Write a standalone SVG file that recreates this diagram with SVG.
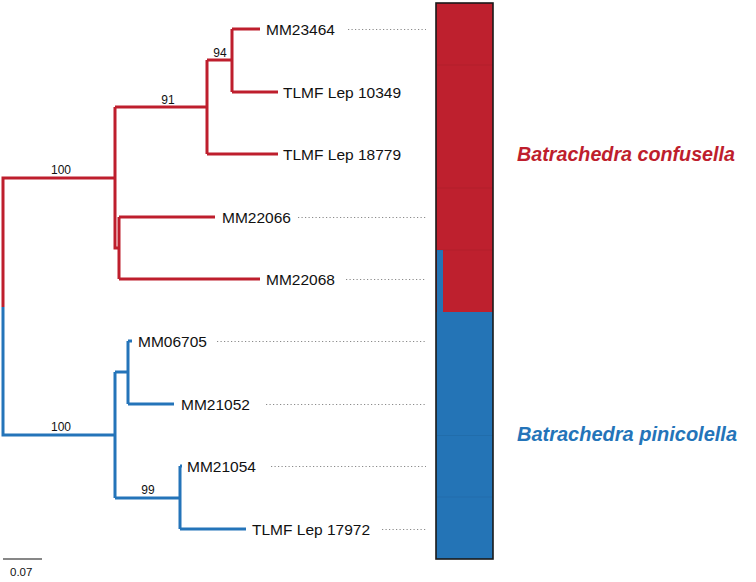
<svg xmlns="http://www.w3.org/2000/svg" width="756" height="582" viewBox="0 0 756 582">
<style>
.red{stroke:#be1e2d;stroke-width:3;fill:none;stroke-linejoin:miter;stroke-linecap:butt}
.blue{stroke:#2474b9;stroke-width:3;fill:none;stroke-linejoin:miter;stroke-linecap:butt}
.dot{stroke:#8a8a8a;stroke-width:1.2;stroke-dasharray:1.2 2.3;fill:none}
.leaf{font-family:"Liberation Sans",Arial,sans-serif;font-size:15.5px;fill:#111}
.bs{font-family:"Liberation Sans",Arial,sans-serif;font-size:12px;fill:#111;text-anchor:middle}
.sp{font-family:"Liberation Sans",Arial,sans-serif;font-size:20px;font-weight:bold;font-style:italic}
.seg{stroke:#000;stroke-opacity:0.06;stroke-width:1}
</style>
<rect width="756" height="582" fill="#fff"/>
<g id="connectors">
<path class="red" d="M3,307 V178 H115 M115,107 V248 H119 M119,217 V279 M115,107 H207 M207,60 V154 M207,60 H232 M232,29 V92 M232,29 H260 M232,92 H278 M207,154 H278 M119,217 H215 M119,279 H260"/>
<path class="blue" d="M3,307 V435 H115 M115,372 V498 M115,372 H128 M128,341 V404 M128,341 H132 M128,404 H174 M115,498 H180 M180,466 V529 M180,466 H182 M180,529 H246"/>
<g id="dots">
<line class="dot" x1="348" y1="29.5" x2="426" y2="29.5"/>
<line class="dot" x1="298" y1="217.5" x2="426" y2="217.5"/>
<line class="dot" x1="346" y1="279.5" x2="426" y2="279.5"/>
<line class="dot" x1="217" y1="341.5" x2="426" y2="341.5"/>
<line class="dot" x1="266" y1="404.5" x2="426" y2="404.5"/>
<line class="dot" x1="271" y1="466.5" x2="426" y2="466.5"/>
<line class="dot" x1="382" y1="529.5" x2="426" y2="529.5"/>
</g>
</g>
<g id="bootstrap">
<text class="bs" x="61" y="173.5">100</text>
<text class="bs" x="168" y="103.5">91</text>
<text class="bs" x="220" y="56.5">94</text>
<text class="bs" x="61" y="431">100</text>
<text class="bs" x="148" y="493.5">99</text>
</g>
<g id="leaf-MM23464"><text class="leaf" x="266" y="34.5">MM23464</text></g>
<g id="leaf-TLMF10349"><text class="leaf" x="283" y="97.5">TLMF Lep 10349</text></g>
<g id="leaf-TLMF18779"><text class="leaf" x="283" y="159.5">TLMF Lep 18779</text></g>
<g id="leaf-MM22066"><text class="leaf" x="222" y="222.5">MM22066</text></g>
<g id="leaf-MM22068"><text class="leaf" x="266" y="284.5">MM22068</text></g>
<g id="leaf-MM06705"><text class="leaf" x="138" y="346.5">MM06705</text></g>
<g id="leaf-MM21052"><text class="leaf" x="181" y="409.5">MM21052</text></g>
<g id="leaf-MM21054"><text class="leaf" x="187" y="471.5">MM21054</text></g>
<g id="leaf-TLMF17972"><text class="leaf" x="252" y="534.5">TLMF Lep 17972</text></g>
<g id="structure-bar">
<rect x="436" y="3" width="57" height="309" fill="#be202e"/>
<rect x="436" y="312" width="57" height="247" fill="#2474b6"/>
<rect x="437" y="250" width="6" height="62" fill="#2474b6"/>
<line class="seg" x1="437" y1="65" x2="493" y2="65"/>
<line class="seg" x1="437" y1="188" x2="493" y2="188"/>
<line class="seg" x1="437" y1="250" x2="493" y2="250"/>
<line class="seg" x1="437" y1="435.5" x2="493" y2="435.5"/>
<line class="seg" x1="437" y1="497" x2="493" y2="497"/>
<rect x="436" y="3" width="57" height="556" fill="none" stroke="#1a1a1a" stroke-width="1.6"/>
</g>
<g id="species-confusella"><text class="sp" x="517" y="161" fill="#be1e2d" textLength="218" lengthAdjust="spacingAndGlyphs">Batrachedra confusella</text></g>
<g id="species-pinicolella"><text class="sp" x="517" y="441" fill="#2474b9" textLength="220" lengthAdjust="spacingAndGlyphs">Batrachedra pinicolella</text></g>
<g id="scale">
<line x1="3" y1="559" x2="42" y2="559" stroke="#111" stroke-width="1.2"/>
<text x="10" y="576" font-family="Liberation Sans, Arial, sans-serif" font-size="11.5" fill="#111">0.07</text>
</g>
</svg>
